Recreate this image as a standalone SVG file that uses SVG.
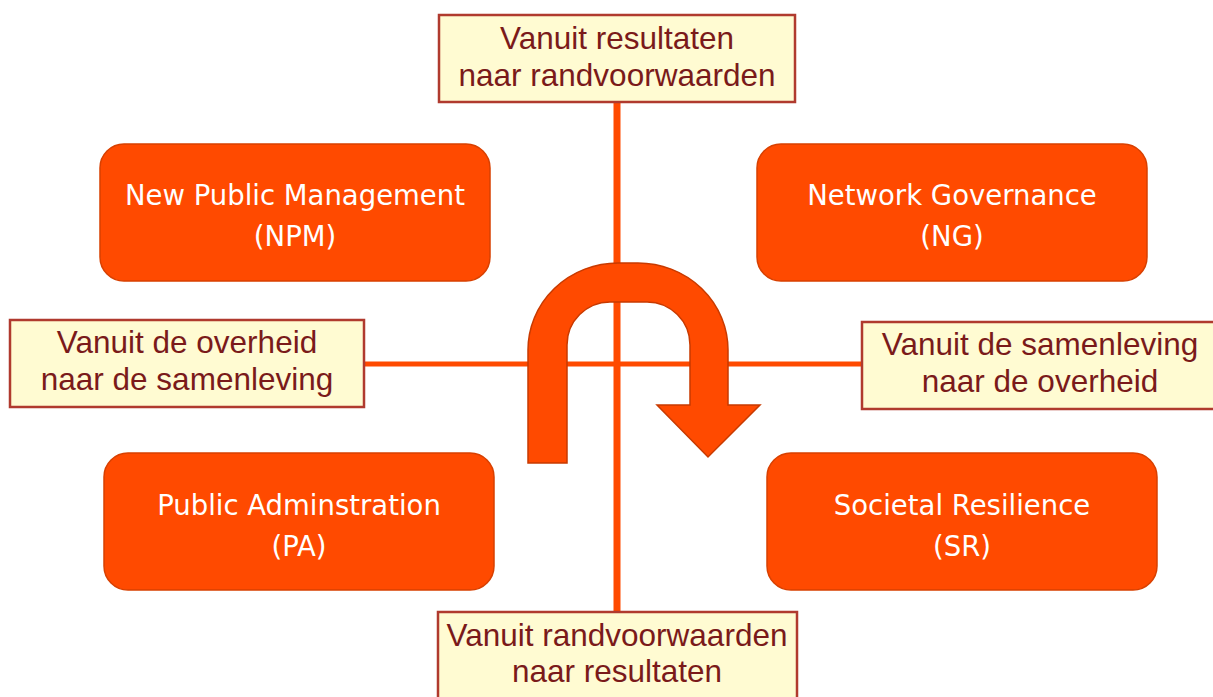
<svg xmlns="http://www.w3.org/2000/svg" width="1213" height="697" viewBox="0 0 1213 697">
<style>
.node rect{fill:#ff4a00;stroke:#d84000;stroke-width:1.5}
.node text{fill:#fff;font-family:"DejaVu Sans",Verdana,sans-serif;font-size:27.5px;text-anchor:middle}
.lbl rect{fill:#fffbd2;stroke:#b03a2e;stroke-width:2.5}
.lbl text{fill:#7a1a1a;font-family:"Liberation Sans",Arial,sans-serif;font-size:31.5px;text-anchor:middle}
.ln{stroke:#ff4a00;fill:none}
</style>
<rect width="1213" height="697" fill="#fff"/>
<g id="connectors">
<line class="ln" x1="617" y1="102" x2="617" y2="612" stroke-width="7"/>
<line class="ln" x1="364" y1="364" x2="862" y2="364" stroke-width="5"/>
</g>
<g id="uturn">
<path d="M528,463 V350 A90,87 0 0 1 618,263 H638 A90,87 0 0 1 728,350 V405 H760 L708,457 L657,405 H690 V345 A43,43 0 0 0 647,302 H610 A43,43 0 0 0 567,345 V463 Z" fill="#ff4a00" stroke="#c83a00" stroke-width="1.5"/>
</g>
<g id="npm" class="node"><rect x="100" y="144" width="390" height="137" rx="24"/><text x="295" y="205">New Public Management</text><text x="295" y="246">(NPM)</text></g>
<g id="ng" class="node"><rect x="757" y="144" width="390" height="137" rx="24"/><text x="952" y="205">Network Governance</text><text x="952" y="246">(NG)</text></g>
<g id="pa" class="node"><rect x="104" y="453" width="390" height="137" rx="24"/><text x="299" y="515">Public Adminstration</text><text x="299" y="556">(PA)</text></g>
<g id="sr" class="node"><rect x="767" y="453" width="390" height="137" rx="24"/><text x="962" y="515">Societal Resilience</text><text x="962" y="556">(SR)</text></g>
<g id="top" class="lbl"><rect x="439" y="15" width="356" height="87"/><text x="617" y="49">Vanuit resultaten</text><text x="617" y="86">naar randvoorwaarden</text></g>
<g id="left" class="lbl"><rect x="10" y="320" width="354" height="87"/><text x="187" y="353">Vanuit de overheid</text><text x="187" y="390">naar de samenleving</text></g>
<g id="right" class="lbl"><rect x="862" y="322" width="360" height="87"/><text x="1040" y="355">Vanuit de samenleving</text><text x="1040" y="392">naar de overheid</text></g>
<g id="bottom" class="lbl"><rect x="438" y="612" width="359" height="100"/><text x="617" y="646">Vanuit randvoorwaarden</text><text x="617" y="682">naar resultaten</text></g>
</svg>
